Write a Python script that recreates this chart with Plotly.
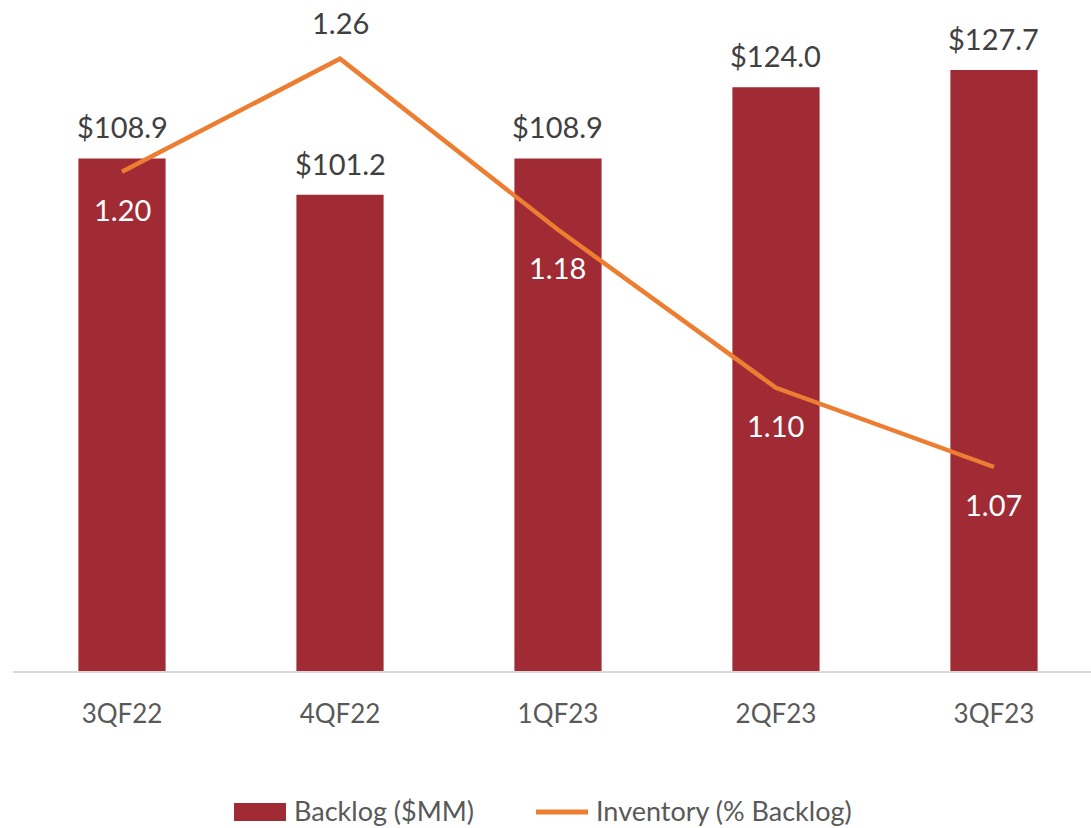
import plotly.graph_objects as go

categories = ["3QF22", "4QF22", "1QF23", "2QF23", "3QF23"]
backlog = [108.9, 101.2, 108.9, 124.0, 127.7]
inventory = [1.2035, 1.2555, 1.1769, 1.1042, 1.0678]
inv_label_pos = ["below", "above", "below", "below", "below"]
series_names = ["Backlog ($MM)", "Inventory (% Backlog)"]

BAR = "#A02B34"
LINE = "#ED7D31"
FONT = "Lato"

# plot area in pixels: x 13..1091, y 12..671
L, R, T, B = 13, 1091, 12, 671
def px(x):
    return (x - L) / (R - L)
def py(y):
    return (B - y) / (B - T)

fig = go.Figure()
fig.add_trace(go.Bar(
    x=categories, y=backlog, name=series_names[0],
    marker=dict(color=BAR, line=dict(width=0)), width=0.4,
))
fig.add_trace(go.Scatter(
    x=categories, y=inventory, name=series_names[1], yaxis="y2",
    mode="lines", line=dict(color=LINE, width=4.5),
))

ann = []
for c, v in zip(categories, backlog):
    ann.append(dict(x=c, y=v, xref="x", yref="y", text=f"${v:.1f}",
                    showarrow=False, yanchor="bottom", yshift=12,
                    font=dict(family=FONT, size=29, color="#404040")))
for c, v, p in zip(categories, inventory, inv_label_pos):
    ann.append(dict(x=c, y=v, xref="x", yref="y2", text=f"{v:.2f}",
                    showarrow=False, yanchor="middle",
                    yshift=(-38 if p == "below" else 36),
                    font=dict(family=FONT, size=29,
                              color=("#FFFFFF" if p == "below" else "#404040"))))

# custom legend
ann.append(dict(x=px(292), y=py(810), xref="paper", yref="paper", text=series_names[0],
                showarrow=False, xanchor="left", yanchor="middle",
                font=dict(family=FONT, size=27, color="#595959")))
ann.append(dict(x=px(594), y=py(810), xref="paper", yref="paper", text=series_names[1],
                showarrow=False, xanchor="left", yanchor="middle",
                font=dict(family=FONT, size=27, color="#595959")))
shapes = [
    dict(type="rect", xref="paper", yref="paper", x0=px(234), x1=px(286),
         y0=py(821), y1=py(803), fillcolor=BAR, line=dict(width=0)),
    dict(type="line", xref="paper", yref="paper", x0=px(536), x1=px(588),
         y0=py(812), y1=py(812), line=dict(color=LINE, width=5)),
]

fig.update_layout(
    width=1091, height=828,
    margin=dict(l=L, r=0, t=T, b=828 - B, autoexpand=False),
    paper_bgcolor="white", plot_bgcolor="white",
    font=dict(family=FONT, size=26, color="#595959"),
    annotations=ann,
    shapes=shapes,
    showlegend=False,
    xaxis=dict(range=[-0.5, 4.445], showline=True, linecolor="#D9D9D9", linewidth=2,
               ticks="outside", ticklen=19, tickcolor="rgba(0,0,0,0)",
               tickfont=dict(family=FONT, size=26, color="#595959"),
               showgrid=False, zeroline=False, automargin=False),
    yaxis=dict(range=[0, 140], visible=False, showgrid=False, zeroline=False),
    yaxis2=dict(range=[0.974, 1.277], overlaying="y", side="right", visible=False,
                showgrid=False, zeroline=False),
)

fig.write_html("out.html", config={"displayModeBar": False},
               post_script="document.body.style.margin='0';document.body.style.overflow='hidden';")
